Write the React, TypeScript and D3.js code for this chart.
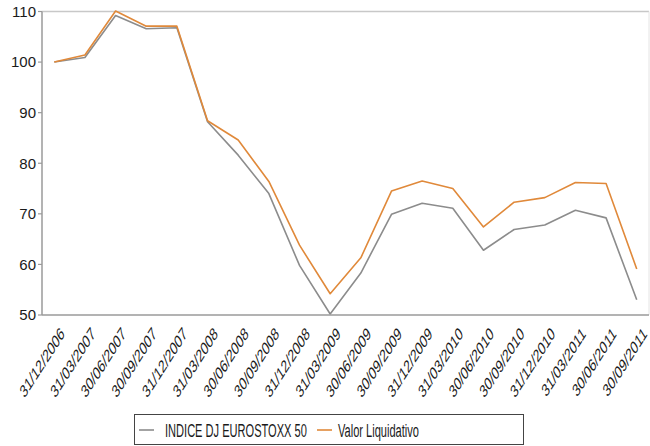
import React, { useRef, useEffect } from 'react';
import * as d3 from 'd3';

const dates = [
  '31/12/2006', '31/03/2007', '30/06/2007', '30/09/2007', '31/12/2007',
  '31/03/2008', '30/06/2008', '30/09/2008', '31/12/2008', '31/03/2009',
  '30/06/2009', '30/09/2009', '31/12/2009', '31/03/2010', '30/06/2010',
  '30/09/2010', '31/12/2010', '31/03/2011', '30/06/2011', '30/09/2011',
];
const indice = [100, 100.9, 109.2, 106.6, 106.8, 88.2, 81.6, 74, 59.8, 50.2, 58.3, 69.9, 72.1, 71.1, 62.8, 66.9, 67.8, 70.7, 69.2, 53];
const valor = [100, 101.4, 110.1, 107.1, 107.1, 88.4, 84.6, 76.4, 63.8, 54.2, 61.3, 74.5, 76.5, 75, 67.4, 72.3, 73.2, 76.2, 76, 59.1];
const yTicks = [50, 60, 70, 80, 90, 100, 110];
const seriesNames = ['INDICE DJ EUROSTOXX 50', 'Valor Liquidativo'];
const seriesColors = ['#8c8c8c', '#e0893a'];

export default function App() {
  const svgRef = useRef<SVGSVGElement>(null);

  useEffect(() => {
    if (!svgRef.current) return;
    const width = 650, height = 446;
    const left = 42, right = 649, top = 11.5, bottom = 315;
    const font = '"Liberation Sans", Arial, sans-serif';
    const svg = d3.select(svgRef.current);
    svg.selectAll('*').remove();
    svg.attr('width', width).attr('height', height);
    svg.append('rect').attr('width', width).attr('height', height).attr('fill', '#fff');

    const x = d3.scalePoint<string>().domain(dates).range([left, right]).padding(0.4);
    const y = d3.scaleLinear().domain([50, 110]).range([bottom, top]);

    // plot frame (top/right light, axes darker)
    svg.append('line').attr('x1', left).attr('x2', right).attr('y1', top).attr('y2', top).attr('stroke', '#c8c8c8').attr('stroke-width', 1.5);
    svg.append('line').attr('x1', right).attr('x2', right).attr('y1', top).attr('y2', bottom).attr('stroke', '#e4e4e4').attr('stroke-width', 1);

    const line = d3.line<number>().x((_, i) => x(dates[i]) as number).y((d) => y(d));
    [indice, valor].forEach((vals, k) => {
      svg.append('path').attr('d', line(vals) as string).attr('fill', 'none')
        .attr('stroke', seriesColors[k]).attr('stroke-width', 1.6).attr('stroke-linejoin', 'round');
    });

    // axes
    svg.append('line').attr('x1', left).attr('x2', left).attr('y1', top).attr('y2', bottom).attr('stroke', '#9a9a9a').attr('stroke-width', 1.5);
    svg.append('line').attr('x1', left).attr('x2', right).attr('y1', bottom).attr('y2', bottom).attr('stroke', '#9a9a9a').attr('stroke-width', 1.5);

    yTicks.forEach((t) => {
      svg.append('line').attr('x1', left - 4).attr('x2', left).attr('y1', y(t)).attr('y2', y(t)).attr('stroke', '#9a9a9a').attr('stroke-width', 1.2);
      svg.append('text').attr('x', left - 6).attr('y', y(t)).attr('dy', '0.36em').attr('text-anchor', 'end')
        .attr('font-family', font).attr('font-size', 15).attr('fill', '#1a1a1a').text(String(t));
    });

    dates.forEach((d) => {
      const ax = (x(d) as number) + 11;
      svg.append('text').attr('transform', `translate(${ax},${bottom + 20}) scale(0.64,1) rotate(-45)`)
        .attr('text-anchor', 'end').attr('font-family', font).attr('font-size', 18).attr('fill', '#1a1a1a').text(d);
    });

    // legend
    const lg = svg.append('g');
    lg.append('rect').attr('x', 134.5).attr('y', 414.5).attr('width', 389).attr('height', 30).attr('fill', '#fff').attr('stroke', '#444').attr('stroke-width', 1);
    const items = [{ lx: 139, tx: 165 }, { lx: 317, tx: 338 }];
    items.forEach((it, k) => {
      lg.append('line').attr('x1', it.lx).attr('x2', it.lx + 15).attr('y1', 430).attr('y2', 430).attr('stroke', seriesColors[k]).attr('stroke-width', 1.6);
      lg.append('text').attr('transform', `translate(${it.tx},437) scale(0.615,1)`).attr('font-family', font)
        .attr('font-size', 18).attr('fill', '#1a1a1a').text(seriesNames[k]);
    });
  }, []);

  return <svg ref={svgRef} style={{ position: 'absolute', left: 0, top: 0 }} />;
}
